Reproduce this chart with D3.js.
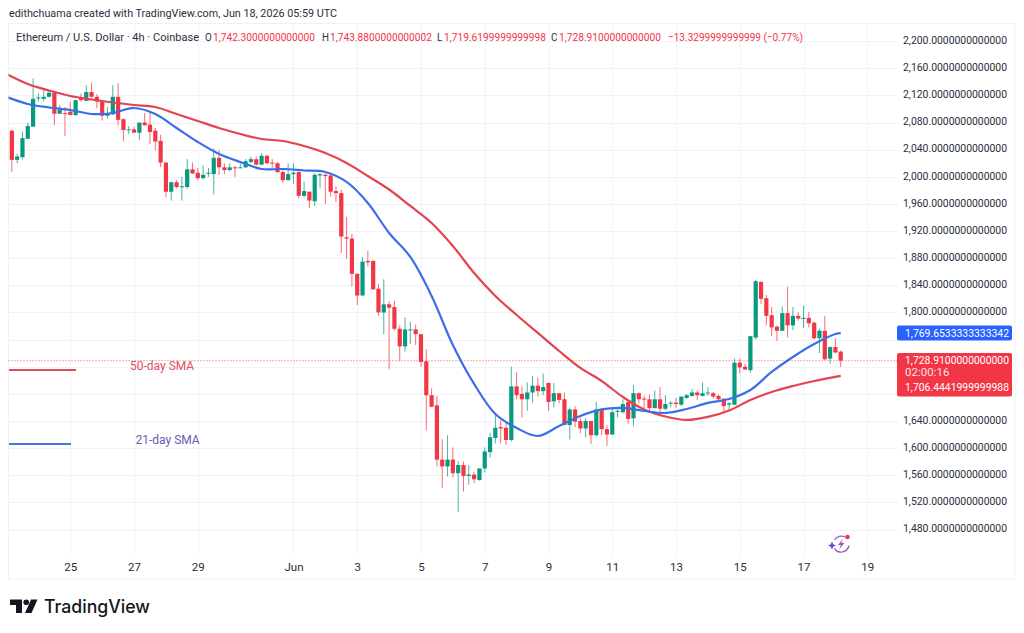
<!DOCTYPE html>
<html>
<head>
<meta charset="utf-8">
<script src="https://cdn.jsdelivr.net/npm/d3@7"></script>
<style>
html,body{margin:0;padding:0;background:#fff;}
svg{display:block;}
text{font-family:Roboto,"Noto Sans",sans-serif;}
</style>
</head>
<body>
<svg id="chart" width="1024" height="633"></svg>
<script>
// ETH/USD 4h candles, oldest first
const opens = [2068,2025,2029,2056,2074,2116,2115,2118,2124,2093,2094,2096,2091,2117,2112,2125,2118,2111,2090,2092,2118,2085,2069,2070,2065,2080,2077,2068,2053,2021,1978,1992,1985,1985,2011,2006,1998,2005,2004,2028,2014,2010,2014,2013,2014,2022,2026,2018,2031,2021,2020,2007,1995,2004,2007,1972,1978,1964,2002,2003,2002,1979,1976,1911,1909,1857,1825,1876,1876,1835,1800,1812,1808,1776,1750,1774,1775,1768,1728,1678,1663,1583,1573,1583,1563,1575,1559,1561,1553,1570,1594,1615,1631,1630,1612,1691,1680,1672,1682,1692,1684,1696,1669,1681,1672,1634,1657,1640,1629,1640,1619,1657,1628,1620,1654,1653,1668,1644,1681,1673,1672,1659,1672,1658,1666,1667,1664,1674,1677,1682,1677,1681,1681,1677,1673,1664,1664,1726,1720,1715,1763,1845,1821,1796,1779,1773,1799,1781,1795,1791,1792,1785,1762,1773,1732,1749,1742.3];
const highs = [2069,2034,2067,2080,2145,2123,2128,2128,2126,2106,2103,2111,2114,2123,2135,2139,2122,2113,2103,2135,2138,2086,2075,2074,2080,2094,2094,2072,2062,2021,1993,1995,2000,2026,2021,2013,2017,2013,2042,2040,2020,2020,2016,2020,2026,2030,2030,2035,2032,2026,2022,2010,2020,2020,2008,1993,1978,2005,2005,2005,2003,1986,1981,1941,1916,1857,1882,1891,1877,1842,1849,1817,1817,1781,1793,1786,1782,1768,1746,1688,1677,1613,1619,1601,1581,1580,1575,1565,1570,1601,1623,1649,1641,1637,1720,1712,1691,1697,1706,1704,1710,1697,1696,1681,1682,1660,1662,1645,1644,1640,1668,1657,1634,1660,1660,1672,1668,1693,1682,1677,1679,1685,1690,1678,1669,1674,1676,1680,1687,1685,1697,1690,1683,1679,1673,1668,1732,1732,1724,1765,1848,1846,1826,1808,1781,1809,1838,1808,1800,1810,1801,1786,1776,1795,1750,1762,1743.88];
const lows = [2007,2020,2026,2056,2074,2111,2111,2117,2076,2093,2060,2091,2090,2111,2112,2116,2101,2083,2086,2091,2076,2052,2063,2065,2054,2076,2048,2039,2014,1970,1965,1983,1965,1982,2004,1995,1996,2000,1974,2003,2004,2008,2000,2013,2013,2020,2017,2017,2019,2013,2005,1991,1995,1989,1968,1970,1954,1957,1983,1960,1971,1963,1888,1879,1838,1811,1825,1868,1834,1795,1768,1716,1773,1729,1742,1754,1752,1720,1626,1660,1573,1541,1558,1557,1506,1536,1546,1548,1552,1564,1586,1607,1607,1605,1610,1672,1645,1655,1667,1676,1678,1655,1660,1666,1634,1613,1631,1622,1616,1606,1617,1619,1603,1620,1645,1651,1636,1632,1666,1659,1653,1659,1652,1656,1660,1659,1662,1672,1676,1671,1676,1677,1673,1671,1654,1655,1664,1710,1715,1711,1760,1812,1781,1765,1758,1773,1763,1774,1788,1777,1778,1760,1740,1730,1724,1740,1719.62];
const closes = [2025,2030,2057,2075,2115,2117,2118,2124,2093,2099,2093,2091,2113,2113,2125,2118,2111,2090,2094,2118,2084,2069,2070,2065,2080,2076,2066,2052,2021,1978,1992,1985,1986,2011,2005,1998,2003,2006,2028,2014,2010,2014,2013,2014,2023,2026,2018,2031,2020,2020,2007,1995,2004,2006,1972,1979,1965,2003,2004,2001,1978,1976,1912,1909,1857,1825,1875,1874,1834,1800,1812,1807,1776,1750,1775,1775,1768,1727,1678,1661,1583,1573,1583,1563,1575,1559,1561,1554,1570,1595,1616,1630,1629,1612,1691,1678,1672,1682,1692,1684,1690,1668,1681,1671,1634,1657,1639,1629,1640,1619,1657,1628,1620,1653,1655,1665,1643,1681,1672,1672,1659,1672,1658,1665,1667,1665,1676,1678,1682,1678,1681,1682,1676,1672,1662,1666,1726,1719,1716,1765,1846,1820,1795,1778,1773,1799,1781,1795,1791,1792,1784,1762,1773,1731,1749,1741,1728.91];

// Moving averages sampled at these candle positions
const smaPositions = [-1,3,7,11,15,19,23,27,31,35,39,43,47,51,55,59,63,67,71,75,79,83,87,91,95,99,103,107,111,115,119,123,127,131,135,139,143,147,151,155,156];
const sma50 = [2151.6,2136.9,2127.3,2119.2,2114,2109.6,2105.9,2103,2092.6,2082.3,2072,2063.1,2055.8,2052.8,2045.4,2035.1,2020.4,2001.2,1981.3,1957,1931.9,1898,1858.2,1824.3,1796.3,1769.8,1743.2,1718.2,1699,1675.4,1657,1646.6,1641.5,1646,1655.5,1671,1682.8,1691.6,1699,1705,1706.4441999999988];
const sma21 = [2117.7,2107.4,2102.2,2098.5,2092.6,2094.1,2101.5,2092.6,2072,2051.3,2033.7,2021.9,2011.5,2011.5,2009.3,2007.1,1992.4,1961.4,1917.2,1881.8,1824.3,1752.1,1694.6,1650.3,1629.7,1617.9,1632.6,1647.4,1657,1659.2,1654.8,1651.8,1657.7,1666.6,1672.4,1685.7,1712.3,1734.4,1753.5,1768.3,1769.6533333333342];

// Axis ticks
const priceTicks = [2200,2160,2120,2080,2040,2000,1960,1920,1880,1840,1800,1760,1720,1680,1640,1600,1560,1520,1480];
const priceTickLabelsHidden = [1760,1720,1680];
const dateTicks = ["2026-05-25","2026-05-27","2026-05-29","2026-06-01","2026-06-03","2026-06-05","2026-06-07","2026-06-09","2026-06-11","2026-06-13","2026-06-15","2026-06-17","2026-06-19"];
const firstCandle = "2026-05-23T04:00:00Z";

// Header and axis-flag strings
const signature = "edithchuama created with TradingView.com, Jun 18, 2026 05:59 UTC";
const symbolTitle = "Ethereum / U.S. Dollar · 4h · Coinbase";
const ohlcLabels = ["O","H","L","C"];
const ohlcValues = ["1,742.3000000000000","1,743.8800000000002","1,719.6199999999998","1,728.9100000000000"];
const changeText = "−13.3299999999999 (−0.77%)";
const countdown = "02:00:16";
const flagSma21 = "1,769.6533333333342";
const flagClose = "1,728.9100000000000";
const flagSma50 = "1,706.4441999999988";

const UP = "#089981", DOWN = "#f23645", BLUE = "#2962ff";
const RED_MA = "#e5434f", BLUE_MA = "#3b6fe8";

const svg = d3.select("#chart");
const fourHours = 4 * 3600 * 1000;
const t0 = new Date(firstCandle).getTime();
const when = i => new Date(t0 + i * fourHours);

const x = d3.scaleUtc()
  .domain([new Date("2026-05-25T00:00:00Z"), new Date("2026-06-19T00:00:00Z")])
  .range([70.3, 867.3]);
const y = d3.scaleLinear().domain([2160, 1480]).range([68.3, 529.5]);

const pane = {left: 8.5, right: 897, top: 23.5, bottom: 579};

// Outer frame
svg.append("rect").attr("x", pane.left).attr("y", pane.top)
  .attr("width", 1015 - pane.left).attr("height", pane.bottom - pane.top)
  .attr("fill", "#fff").attr("stroke", "#eff1f6").attr("stroke-width", 1);

// Grid
const grid = svg.append("g").attr("stroke", "#f0f3fa").attr("stroke-width", 1);
grid.selectAll(".h").data(priceTicks).join("line")
  .attr("x1", pane.left).attr("x2", pane.right)
  .attr("y1", d => Math.round(y(d)) + 0.5).attr("y2", d => Math.round(y(d)) + 0.5);
grid.selectAll(".v").data(dateTicks).join("line")
  .attr("x1", d => Math.round(x(new Date(d))) + 0.5).attr("x2", d => Math.round(x(new Date(d))) + 0.5)
  .attr("y1", pane.top).attr("y2", 555);

// Last-price dotted line
svg.append("line").attr("x1", pane.left).attr("x2", pane.right)
  .attr("y1", y(closes[closes.length - 1])).attr("y2", y(closes[closes.length - 1]))
  .attr("stroke", DOWN).attr("stroke-width", 1).attr("stroke-dasharray", "1 2").attr("opacity", 0.8);

// Candles
const candles = d3.range(opens.length).map(i => ({i, o: opens[i], h: highs[i], l: lows[i], c: closes[i]}));
const candleG = svg.append("g");
candleG.selectAll("line").data(candles).join("line")
  .attr("x1", d => x(when(d.i))).attr("x2", d => x(when(d.i)))
  .attr("y1", d => y(d.h)).attr("y2", d => y(d.l))
  .attr("stroke", d => d.c >= d.o ? UP : DOWN)
  .attr("stroke-width", 1).attr("opacity", 0.72);
candleG.selectAll("rect").data(candles).join("rect")
  .attr("x", d => x(when(d.i)) - 2.1)
  .attr("width", 4.2)
  .attr("y", d => Math.min(y(d.o), y(d.c)))
  .attr("height", d => Math.max(1, Math.abs(y(d.o) - y(d.c))))
  .attr("fill", d => d.c >= d.o ? UP : DOWN);

// Moving averages
svg.append("clipPath").attr("id", "paneClip").append("rect")
  .attr("x", pane.left).attr("y", pane.top).attr("width", pane.right - pane.left).attr("height", pane.bottom - pane.top);
const maLine = d3.line()
  .x((d, k) => x(when(smaPositions[k])))
  .y(d => y(d))
  .curve(d3.curveCatmullRom.alpha(0.5));
svg.append("path").datum(sma50).attr("d", maLine).attr("clip-path", "url(#paneClip)")
  .attr("fill", "none").attr("stroke", RED_MA).attr("stroke-width", 2.2);
svg.append("path").datum(sma21).attr("d", maLine).attr("clip-path", "url(#paneClip)")
  .attr("fill", "none").attr("stroke", BLUE_MA).attr("stroke-width", 2.2);

// Hand-drawn legend annotations
svg.append("line").attr("x1", 9).attr("x2", 76).attr("y1", 370).attr("y2", 370)
  .attr("stroke", "#d9505c").attr("stroke-width", 2);
svg.append("line").attr("x1", 9).attr("x2", 71).attr("y1", 444).attr("y2", 444)
  .attr("stroke", "#4a76d8").attr("stroke-width", 2);
svg.append("text").attr("x", 130).attr("y", 370).attr("font-size", 12).attr("fill", "#e0515f").text("50-day SMA");
svg.append("text").attr("x", 135.5).attr("y", 444).attr("font-size", 12).attr("fill", "#6a5cb5").text("21-day SMA");

// Price axis
const priceFmt = d3.format(",.13f");
const yAxis = d3.axisRight(y).tickValues(priceTicks.filter(p => !priceTickLabelsHidden.includes(p)))
  .tickSize(0).tickPadding(0).tickFormat(priceFmt);
const yG = svg.append("g").attr("transform", "translate(903,-1.5)").call(yAxis);
yG.select(".domain").remove();
yG.selectAll("text").attr("font-size", 11.5).attr("fill", "#2a2e39")
  .style("font-family", "Roboto,sans-serif").attr("textLength", 104).attr("lengthAdjust", "spacingAndGlyphs");

// Time axis
const xAxis = d3.axisBottom(x).tickValues(dateTicks.map(d => new Date(d))).tickSize(0).tickPadding(0)
  .tickFormat(d => d.getUTCDate() === 1 ? "Jun" : String(d.getUTCDate()));
const xG = svg.append("g").attr("transform", "translate(0,562.5)").call(xAxis);
xG.select(".domain").remove();
xG.selectAll("text").attr("font-size", 11.5).attr("fill", "#2a2e39").style("font-family", "Roboto,sans-serif");

// Price flags on the axis
function priceBox(top, h, fill) {
  svg.append("rect").attr("x", 897).attr("y", top).attr("width", 115).attr("height", h).attr("rx", 2).attr("fill", fill);
}
function boxText(t, yy, op) {
  return svg.append("text").attr("x", 905).attr("y", yy).attr("font-size", 11.5).attr("fill", "#fff")
    .attr("dominant-baseline", "middle").attr("opacity", op || 1).text(t);
}
priceBox(325.5, 15, BLUE);
boxText(flagSma21, 333.5).attr("textLength", 104).attr("lengthAdjust", "spacingAndGlyphs");
priceBox(353, 43.5, DOWN);
boxText(flagClose, 360.5).attr("textLength", 104).attr("lengthAdjust", "spacingAndGlyphs");
boxText(countdown, 373, 0.85);
boxText(flagSma50, 388).attr("textLength", 104).attr("lengthAdjust", "spacingAndGlyphs");

// Signature line
svg.append("text").attr("x", 9).attr("y", 17).attr("font-size", 11.5).attr("fill", "#2a2e39")
  .attr("textLength", 328).attr("lengthAdjust", "spacingAndGlyphs").text(signature);

// Symbol line
svg.append("text").attr("x", 16).attr("y", 41).attr("font-size", 11.5).attr("fill", "#2a2e39")
  .attr("textLength", 183).attr("lengthAdjust", "spacingAndGlyphs").text(symbolTitle);

// OHLC readout: condensed horizontally so every value fits its slot
const ohlcLetterX = [205, 322, 437, 551];
const ohlcValueX = [213, 330, 444, 559];
function condensed(px, str, fill, width) {
  const t = svg.append("text").attr("font-size", 11.5).attr("fill", fill).text(str);
  const natural = t.node().getComputedTextLength();
  const sx = width ? width / natural : 0.85;
  t.attr("transform", `translate(${px},41) scale(${sx},1)`);
}
ohlcLabels.forEach((lab, k) => {
  condensed(ohlcLetterX[k], lab, "#2a2e39");
  condensed(ohlcValueX[k], ohlcValues[k], DOWN, 102);
});
svg.append("text").attr("x", 668).attr("y", 41).attr("font-size", 11.5).attr("fill", DOWN)
  .attr("textLength", 135).attr("lengthAdjust", "spacingAndGlyphs").text(changeText);

// Assistant badge in the lower corner of the pane
const badge = svg.append("g").attr("transform", "translate(841,544)").attr("fill", "none");
badge.append("path").attr("d", "M-6.5,4.5 A8,8 0 0 0 8,1.5").attr("stroke", "#a45cc8").attr("stroke-width", 1.4);
badge.append("path").attr("d", "M-6.5,-4 A8,8 0 0 1 4,-7").attr("stroke", "#a45cc8").attr("stroke-width", 1.4);
badge.append("path").attr("d", "M2,-5 L-3,1 L0,1 L-2,5.5 L3.5,-1 L0.5,-1 Z").attr("fill", "#a04fc4");
badge.append("path").attr("d", "M-9,-2.5 L-7.7,0.2 L-5,1.5 L-7.7,2.8 L-9,5.5 L-10.3,2.8 L-13,1.5 L-10.3,0.2 Z").attr("fill", "#5a4de0");
badge.append("circle").attr("cx", 6.5).attr("cy", -7).attr("r", 2.3).attr("fill", "#f23645");

// Brand mark and wordmark
const logo = svg.append("g").attr("fill", "#131722");
logo.append("path").attr("d", "M10,599.5 H22 V613 H16 V605 H10 Z");
logo.append("circle").attr("cx", 26.2).attr("cy", 602.3).attr("r", 2.8);
logo.append("path").attr("d", "M31,599.5 H37.5 L31.5,613 H25 Z");
svg.append("text").attr("x", 44).attr("y", 613).attr("font-size", 18).attr("font-weight", 500)
  .style("font-family", "Inter,Roboto,sans-serif").attr("fill", "#131722")
  .attr("textLength", 106).attr("lengthAdjust", "spacingAndGlyphs").text("TradingView");
</script>
</body>
</html>
